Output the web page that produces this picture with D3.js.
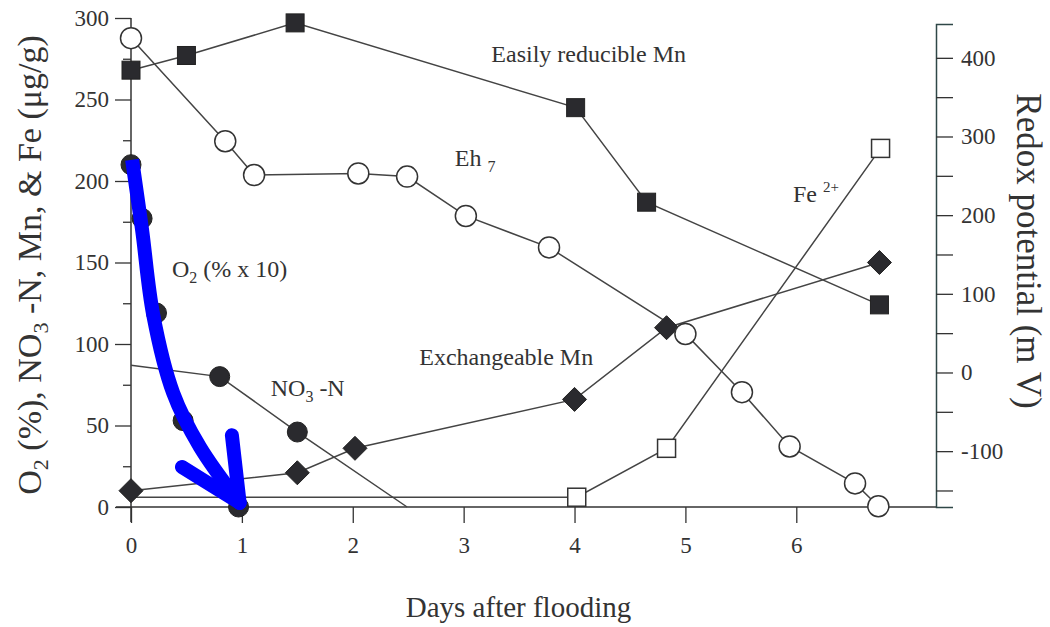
<!DOCTYPE html>
<html>
<head>
<meta charset="utf-8">
<script src="https://cdn.jsdelivr.net/npm/d3@7"></script>
<style>
body { margin: 0; background: #fff; }
text { font-family: "Liberation Serif", "DejaVu Serif", serif; fill: #333; }
</style>
</head>
<body>
<div id="chart"></div>
<script>
var width = 1050;
var height = 627;

// values (days after flooding, value)
var ehDays = [0, 0.85, 1.11, 2.05, 2.49, 3.02, 3.77, 5.0, 5.51, 5.94, 6.53, 6.74];
var ehVals = [425, 294, 251, 253, 249, 199, 159, 49, -25, -94, -141, -170];   // mV, right axis

var redMnDays = [0, 0.5, 1.48, 4.01, 4.65, 6.75];
var redMnVals = [268, 277, 297, 245, 187, 124];

var exMnDays = [0, 1.5, 2.02, 4.0, 4.83, 6.75];
var exMnVals = [10, 21, 36, 66, 110, 150];

var feDays = [0, 4.02, 4.83, 6.76];
var feVals = [6, 6, 36, 220];
var feMarked = [false, true, true, true];

var no3Days = [0, 0.8, 1.5, 2.49];
var no3Vals = [87, 80, 46, 0];
var no3Marked = [false, true, true, false];

var o2Days = [0, 0.1, 0.23, 0.47, 0.97];
var o2Vals = [210, 177, 119, 53, 0];

var xTicks = [0, 1, 2, 3, 4, 5, 6];
var leftTicks = [0, 50, 100, 150, 200, 250, 300];
var leftMinor = [25, 75, 125, 175, 225, 275];
var rightTicks = [-150, -100, -50, 0, 50, 100, 150, 200, 250, 300, 350, 400];
var rightLabels = [-100, 0, 100, 200, 300, 400];

// blue hand-drawn arrow over the O2 curve (day, left-axis value)
var arrowShaft = [[0.01, 213], [0.1, 170], [0.2, 118], [0.38, 70], [0.62, 37], [0.98, 2.5]];
var arrowHead = [[[0.46, 24.5], [0.98, 2.5]], [[0.91, 44], [0.98, 2.5]]];

var x = d3.scaleLinear().domain([0, 7.26]).range([131, 936]);
var yL = d3.scaleLinear().domain([0, 300]).range([507, 18]);
var yR = d3.scaleLinear().domain([-171, 443]).range([507, 24]);

var svg = d3.select("#chart").append("svg")
    .attr("width", width)
    .attr("height", height);

var ink = "#333";

// ----- axes -----
var gx = svg.append("g").attr("transform", "translate(0," + yL(0) + ")")
    .call(d3.axisBottom(x).tickValues(xTicks).tickSize(16).tickSizeOuter(0).tickPadding(14));
gx.select(".domain").remove();
gx.selectAll("line").attr("stroke", ink).attr("stroke-width", 1.3);
gx.selectAll("text").attr("font-size", 23).attr("font-family", "Liberation Serif").attr("fill", ink);

svg.append("line")
    .attr("x1", x(0) - 15).attr("x2", x(7.26))
    .attr("y1", yL(0)).attr("y2", yL(0))
    .attr("stroke", ink).attr("stroke-width", 1.5);

var gl = svg.append("g").attr("transform", "translate(" + x(0) + ",0)")
    .call(d3.axisLeft(yL).tickValues(leftTicks).tickSize(16).tickSizeOuter(0).tickPadding(6));
gl.select(".domain").remove();
gl.selectAll("line").attr("stroke", ink).attr("stroke-width", 1.3);
gl.selectAll("text").attr("font-size", 23).attr("font-family", "Liberation Serif").attr("fill", ink);

svg.append("g").attr("transform", "translate(" + x(0) + ",0)")
    .call(d3.axisLeft(yL).tickValues(leftMinor).tickSize(8).tickFormat(""))
    .call(function(g) {
        g.select(".domain").remove();
        g.selectAll("line").attr("stroke", ink).attr("stroke-width", 1.3);
    });

svg.append("line")
    .attr("x1", x(0)).attr("x2", x(0))
    .attr("y1", yL(300)).attr("y2", yL(0) + 15)
    .attr("stroke", ink).attr("stroke-width", 1.5);

var gr = svg.append("g").attr("transform", "translate(" + x(7.26) + ",0)")
    .call(d3.axisRight(yR).tickValues(rightTicks).tickSize(17).tickSizeOuter(17).tickPadding(8)
        .tickFormat(function(d) { return rightLabels.indexOf(d) >= 0 ? d : ""; }));
gr.select(".domain").attr("stroke", "#2f4747").attr("stroke-width", 1.5);
gr.selectAll("line").attr("stroke", ink).attr("stroke-width", 1.3);
gr.selectAll("text").attr("font-size", 23).attr("font-family", "Liberation Serif").attr("fill", ink);

// axis titles
svg.append("text")
    .attr("transform", "translate(" + ((x(0) + x(7.26)) / 2 - 15) + ",617)")
    .attr("text-anchor", "middle")
    .attr("font-size", 29)
    .text("Days after flooding");

var lt = svg.append("text")
    .attr("transform", "translate(41,265) rotate(-90)")
    .attr("text-anchor", "middle")
    .attr("font-size", 34);
lt.append("tspan").text("O");
lt.append("tspan").attr("font-size", 22).attr("dy", 7).text("2");
lt.append("tspan").attr("dy", -7).text(" (%), NO");
lt.append("tspan").attr("font-size", 22).attr("dy", 7).text("3");
lt.append("tspan").attr("dy", -7).text(" -N, Mn, & Fe (\u03bcg/g)");

svg.append("text")
    .attr("transform", "translate(1017,251) rotate(90)")
    .attr("text-anchor", "middle")
    .attr("font-size", 35)
    .text("Redox potential (m V)");

// ----- series -----
function pts(days, vals, ys) {
    return days.map(function(d, i) { return [x(d), ys(vals[i])]; });
}
var line = d3.line();

function drawLine(p) {
    svg.append("path")
        .attr("d", line(p))
        .attr("fill", "none")
        .attr("stroke", "#444")
        .attr("stroke-width", 1.5);
}

var ehP = pts(ehDays, ehVals, yR);
var redP = pts(redMnDays, redMnVals, yL);
var exP = pts(exMnDays, exMnVals, yL);
var feP = pts(feDays, feVals, yL);
var no3P = pts(no3Days, no3Vals, yL);
var o2P = pts(o2Days, o2Vals, yL);

[feP, no3P, o2P, exP, redP, ehP].forEach(drawLine);

// open squares: Fe2+
svg.selectAll(".fe").data(feP.filter(function(p, i) { return feMarked[i]; }))
    .enter().append("rect").attr("class", "fe")
    .attr("x", function(d) { return d[0] - 9; })
    .attr("y", function(d) { return d[1] - 9; })
    .attr("width", 18).attr("height", 18)
    .attr("fill", "#fff").attr("stroke", "#333").attr("stroke-width", 1.5);

// filled circles: NO3-N and O2
svg.selectAll(".no3").data(no3P.filter(function(p, i) { return no3Marked[i]; }).concat(o2P))
    .enter().append("circle").attr("class", "no3")
    .attr("cx", function(d) { return d[0]; })
    .attr("cy", function(d) { return d[1]; })
    .attr("r", 10)
    .attr("fill", "#2a2a2e").attr("stroke", "#222").attr("stroke-width", 1);

// filled diamonds: exchangeable Mn
svg.selectAll(".ex").data(exP)
    .enter().append("path").attr("class", "ex")
    .attr("transform", function(d) { return "translate(" + d[0] + "," + d[1] + ")"; })
    .attr("d", "M0,-12L12,0L0,12L-12,0Z")
    .attr("fill", "#2a2a2e").attr("stroke", "#222").attr("stroke-width", 1);

// filled squares: easily reducible Mn
svg.selectAll(".red").data(redP)
    .enter().append("rect").attr("class", "red")
    .attr("x", function(d) { return d[0] - 9; })
    .attr("y", function(d) { return d[1] - 9; })
    .attr("width", 18).attr("height", 18)
    .attr("fill", "#2a2a2e").attr("stroke", "#222").attr("stroke-width", 1);

// open circles: Eh7
svg.selectAll(".eh").data(ehP)
    .enter().append("circle").attr("class", "eh")
    .attr("cx", function(d) { return d[0]; })
    .attr("cy", function(d) { return d[1]; })
    .attr("r", 10.5)
    .attr("fill", "#fff").attr("stroke", "#333").attr("stroke-width", 1.5);

// ----- series labels -----
function label(day, val, size) {
    return svg.append("text")
        .attr("x", x(day)).attr("y", yL(val))
        .attr("font-size", size || 24);
}
label(3.25, 273).text("Easily reducible Mn");

var eh = label(2.92, 209);
eh.append("tspan").text("Eh ");
eh.append("tspan").attr("font-size", 16).attr("dy", 6).text("7");

var o2 = label(0.37, 141);
o2.append("tspan").text("O");
o2.append("tspan").attr("font-size", 16).attr("dy", 6).text("2");
o2.append("tspan").attr("dy", -6).text(" (% x 10)");

var no = label(1.26, 68);
no.append("tspan").text("NO");
no.append("tspan").attr("font-size", 16).attr("dy", 6).text("3");
no.append("tspan").attr("dy", -6).text(" -N");

label(2.6, 87).text("Exchangeable Mn");

var fe = label(5.97, 187);
fe.append("tspan").text("Fe ");
fe.append("tspan").attr("font-size", 15).attr("dy", -10).text("2+");

// ----- blue arrow -----
svg.append("path")
    .attr("d", d3.line().curve(d3.curveCatmullRom)(arrowShaft.map(function(p) { return [x(p[0]), yL(p[1])]; })))
    .attr("fill", "none").attr("stroke", "#0000ff").attr("stroke-width", 14)
    .attr("stroke-linecap", "butt");
arrowHead.forEach(function(seg) {
    svg.append("path")
        .attr("d", line(seg.map(function(p) { return [x(p[0]), yL(p[1])]; })))
        .attr("fill", "none").attr("stroke", "#0000ff").attr("stroke-width", 14)
        .attr("stroke-linecap", "round");
});
</script>
</body>
</html>
